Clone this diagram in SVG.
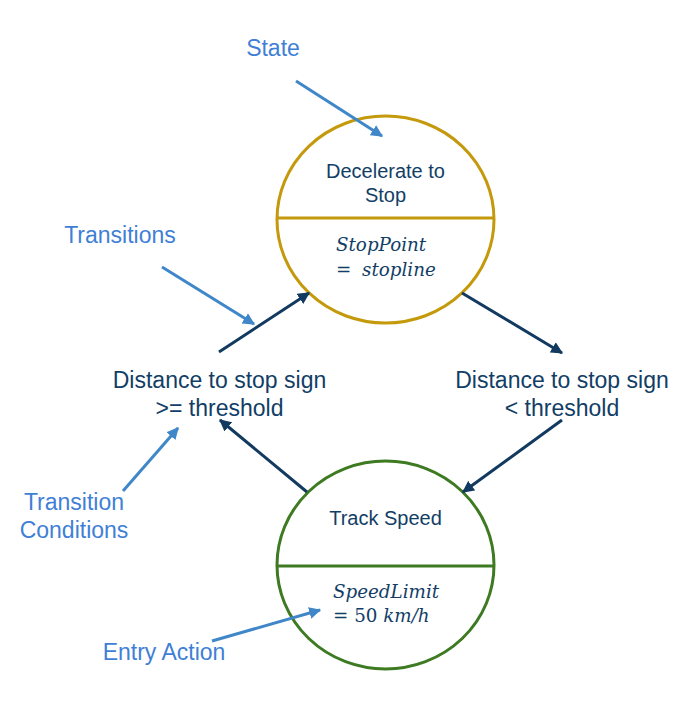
<svg xmlns="http://www.w3.org/2000/svg" width="681" height="701" viewBox="0 0 681 701">
<style>
.lbl{font-family:"Liberation Sans",Arial,sans-serif;font-size:23px;fill:#3f7fd6}
.cond{font-family:"Liberation Sans",Arial,sans-serif;font-size:23px;fill:#123e66}
.st{font-family:"Liberation Sans",Arial,sans-serif;font-size:20px;fill:#123e66}
.math{font-family:"DejaVu Serif","Liberation Serif",serif;font-style:italic;font-size:18.3px;fill:#123e66}
.mathn{font-style:normal}
.dark{stroke:#123a60;stroke-width:3;fill:none;marker-end:url(#ad)}
.blue{stroke:#3f87c8;stroke-width:3;fill:none;marker-end:url(#ab)}
</style>
<defs>
<marker id="ad" viewBox="0 0 10 10" refX="9" refY="5" markerWidth="4" markerHeight="4" orient="auto" markerUnits="strokeWidth"><path d="M0,0 L10,5 L0,10 z" fill="#123a60"/></marker>
<marker id="ab" viewBox="0 0 10 10" refX="9" refY="5" markerWidth="4" markerHeight="4" orient="auto" markerUnits="strokeWidth"><path d="M0,0 L10,5 L0,10 z" fill="#3f87c8"/></marker>
</defs>
<rect width="681" height="701" fill="#ffffff"/>
<g id="state-decelerate">
<ellipse cx="385.5" cy="219.5" rx="108.5" ry="103.5" fill="none" stroke="#c49a0c" stroke-width="3"/>
<line x1="277" y1="218" x2="494" y2="218" stroke="#c49a0c" stroke-width="3"/>
<text class="st" x="385.5" y="178" text-anchor="middle">Decelerate to</text>
<text class="st" x="385.5" y="202" text-anchor="middle">Stop</text>
<text class="math" x="336" y="251">StopPoint</text>
<text class="math" x="336" y="276"><tspan class="mathn">=</tspan><tspan x="362">stopline</tspan></text>
</g>
<g id="state-track">
<ellipse cx="385.5" cy="565" rx="108.5" ry="104" fill="none" stroke="#3d7a21" stroke-width="3"/>
<line x1="277" y1="566" x2="494" y2="566" stroke="#3d7a21" stroke-width="3"/>
<text class="st" x="385.5" y="525" text-anchor="middle">Track Speed</text>
<text class="math" x="333" y="598">SpeedLimit</text>
<text class="math" x="333" y="622"><tspan class="mathn">= 50</tspan> km/h</text>
</g>
<g id="cond-ge">
<text class="cond" x="219.5" y="388" text-anchor="middle">Distance to stop sign</text>
<text class="cond" x="219.5" y="416" text-anchor="middle">&gt;= threshold</text>
</g>
<g id="cond-lt">
<text class="cond" x="562" y="388" text-anchor="middle">Distance to stop sign</text>
<text class="cond" x="562" y="416" text-anchor="middle">&lt; threshold</text>
</g>
<g id="labels">
<text class="lbl" x="273" y="56" text-anchor="middle">State</text>
<text class="lbl" x="120" y="243" text-anchor="middle">Transitions</text>
<text class="lbl" x="74" y="510" text-anchor="middle">Transition</text>
<text class="lbl" x="74" y="538" text-anchor="middle">Conditions</text>
<text class="lbl" x="164" y="660" text-anchor="middle">Entry Action</text>
</g>
<g id="connectors">
<line class="dark" x1="219" y1="352" x2="309" y2="293"/>
<line class="dark" x1="462" y1="293" x2="562" y2="353"/>
<line class="dark" x1="562" y1="420" x2="463" y2="492"/>
<line class="dark" x1="307" y1="492" x2="220" y2="420"/>
<line class="blue" x1="296" y1="81" x2="382" y2="136"/>
<line class="blue" x1="162" y1="267" x2="254" y2="324"/>
<line class="blue" x1="123" y1="491" x2="178" y2="428"/>
<line class="blue" x1="212" y1="641" x2="320" y2="610"/>
</g>
</svg>
